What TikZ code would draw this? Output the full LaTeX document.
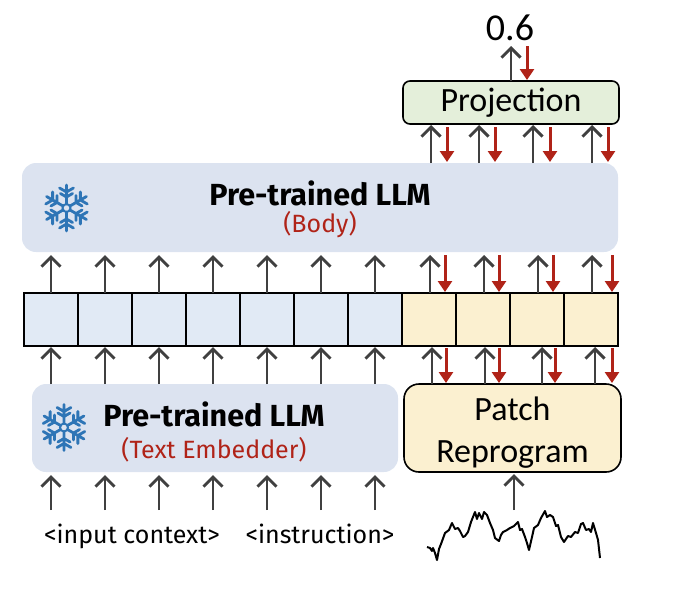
\documentclass[tikz,border=0pt]{standalone}
\usepackage{fontspec}
\setmainfont{Carlito}
\newfontfamily\handfont{Fira Sans}
\usetikzlibrary{arrows.meta}
\definecolor{dark}{HTML}{404040}
\definecolor{redc}{HTML}{B02318}
\definecolor{blueb}{HTML}{DCE3F0}
\definecolor{bluec}{HTML}{E1EAF5}
\definecolor{yellowc}{HTML}{FBF0D0}
\definecolor{greenc}{HTML}{E4EFDA}
\definecolor{flakec}{HTML}{2E75B6}
\tikzset{
  x=1pt,y=-1pt,
  upa/.style={draw=dark,line width=2.9pt,-{Straight Barb[length=9.5pt,width=19pt,line width=2.9pt]}},
  downa/.style={draw=redc,line width=3pt,-{Triangle[length=11pt,width=14pt]}},
  cellbox/.style={draw=black,line width=1.6pt,minimum width=54pt,minimum height=53pt,inner sep=0pt,outer sep=0pt},
  softbox/.style={fill=blueb,rounded corners=14pt,inner sep=0pt,outer sep=0pt},
  handtitle/.style={font=\handfont\bfseries\fontsize{30.5}{34}\selectfont,text=black,inner sep=0pt,anchor=base},
  handred/.style={font=\handfont\fontsize{25}{28}\selectfont,text=redc,inner sep=0pt,anchor=base},
  handsmall/.style={font=\handfont\fontsize{25}{28}\selectfont,text=black,inner sep=0pt,anchor=base},
  flake/.pic={
    \foreach \a in {30,90,150,210,270,330}{
      \begin{scope}[rotate=\a]
        \draw[flakec,line width=2.8pt,line cap=round] (4,0) -- (23,0)
          (11,0) -- ++(60:7) (11,0) -- ++(-60:7)
          (16,0) -- ++(60:8) (16,0) -- ++(-60:8);
      \end{scope}
    }
    \draw[flakec,line width=2pt] (0,0) circle (4);
  }
}
\begin{document}
\begin{tikzpicture}
\useasboundingbox (0,0) rectangle (680,592);
% large boxes
\node[softbox,minimum width=596pt,minimum height=89pt] (body) at (320,207.5) {};
\node[softbox,minimum width=366pt,minimum height=88pt] (embed) at (215,428) {};
\node[draw=black,line width=1.6pt,fill=yellowc,rounded corners=15pt,minimum width=217pt,minimum height=88pt,inner sep=0pt,outer sep=0pt,align=center,font=\fontsize{34}{42}\selectfont] (patch) at (512.5,428) {\rule{0pt}{33pt}Patch\\Reprogram};
\node[draw=black,line width=1.6pt,fill=greenc,rounded corners=7pt,minimum width=216pt,minimum height=43pt,inner sep=0pt,outer sep=0pt,font=\fontsize{34}{36}\selectfont] (proj) at (511,102.5) {Projection};
\node[inner sep=0pt,font=\fontsize{38}{40}\selectfont] (out) at (510,28) {0.6};
% cells
\foreach \i in {1,...,7}{
  \node[cellbox,fill=bluec] (c\i) at ({24+54*(\i-0.5)},319.5) {};
}
\foreach \i in {8,...,11}{
  \node[cellbox,fill=yellowc] (c\i) at ({24+54*(\i-0.5)},319.5) {};
}
% texts
\node[handtitle] (t1) at (320,205) {Pre-trained LLM};
\node[handred] (t2) at (320,232) {(Body)};
\node[handtitle] (t3) at (214,426) {Pre-trained LLM};
\node[handred] (t4) at (214,458) {(Text Embedder)};
\node[handsmall] (t5) at (132,543) {<input context>};
\node[handsmall] (t6) at (320,543) {<instruction>};
% flakes
\pic at (66.5,208) {flake};
\pic at (64,427.5) {flake};
% left arrows
\foreach \i in {1,...,7}{
  \draw[upa,shorten >=3pt] (c\i.north) -- (c\i.north |- body.south);
  \draw[upa,shorten >=1pt] (c\i.south |- embed.north) -- (c\i.south);
  \coordinate (in\i) at ({24+54*(\i-0.5)},510);
  \draw[upa,shorten >=3pt] (in\i) -- (in\i |- embed.south);
}
% right arrows: dark and red offsets in the three rows
\foreach \i/\da/\ra/\db/\rb/\dc/\rc in {8/2/18/1/16/3/17,9/-4/12/1/16/2/16,10/-4/13/1/16/5/18,11/1/17/1/21/4/21}{
  \draw[upa,shorten >=1pt] ([xshift=\da pt]c\i.north |- body.north) -- ([xshift=\da pt]c\i.north |- proj.south);
  \draw[downa,shorten >=1pt] ([xshift=\ra pt,yshift=-3pt]c\i.north |- proj.south) -- ([xshift=\ra pt]c\i.north |- body.north);
  \draw[upa,shorten >=3pt] ([xshift=\db pt]c\i.north) -- ([xshift=\db pt]c\i.north |- body.south);
  \draw[downa,shorten >=1pt] ([xshift=\rb pt,yshift=-3pt]c\i.north |- body.south) -- ([xshift=\rb pt]c\i.north);
  \draw[upa,shorten >=1pt] ([xshift=\dc pt]c\i.south |- patch.north) -- ([xshift=\dc pt]c\i.south);
  \draw[downa,shorten >=1pt] ([xshift=\rc pt,yshift=-2pt]c\i.south) -- ([xshift=\rc pt]c\i.south |- patch.north);
}
% top arrows
\coordinate (outa) at (511,46);
\coordinate (outb) at (527,46);
\draw[upa,shorten >=0pt] (outa |- proj.north) -- (outa);
\draw[downa,shorten >=1pt] (outb) -- (outb |- proj.north);
% series
\coordinate (wavetop) at (514,510);
\draw[upa,shorten >=2pt] (wavetop) -- (wavetop |- patch.south);
\draw[black,line width=2pt,line join=round]
 (427,547) -- (430,548) -- (432,551) -- (433,548) -- (435,553) -- (437,560) -- (439,549) -- (441,544) -- (445,533) -- (449,530) -- (452,523) -- (455,529) -- (458,528) -- (460,531) -- (463,537) -- (465,536) -- (468,532) -- (471,522) -- (475,512) -- (477,519) -- (479,513) -- (482,519) -- (484,512) -- (487,515) -- (490,523) -- (493,530) -- (495,538) -- (499,541) -- (501,535) -- (503,532) -- (507,530) -- (510,528) -- (514,526) -- (518,522) -- (520,530) -- (522,529) -- (525,537) -- (527,543) -- (529,550) -- (532,537) -- (534,528) -- (538,525) -- (541,518) -- (545,511) -- (547,517) -- (550,515) -- (553,517) -- (556,526) -- (558,525) -- (561,537) -- (564,542) -- (568,536) -- (571,537) -- (575,532) -- (578,533) -- (581,524) -- (583,523) -- (586,530) -- (589,529) -- (591,532) -- (593,523) -- (596,533) -- (598,540) -- (600,558);
\end{tikzpicture}
\end{document}
